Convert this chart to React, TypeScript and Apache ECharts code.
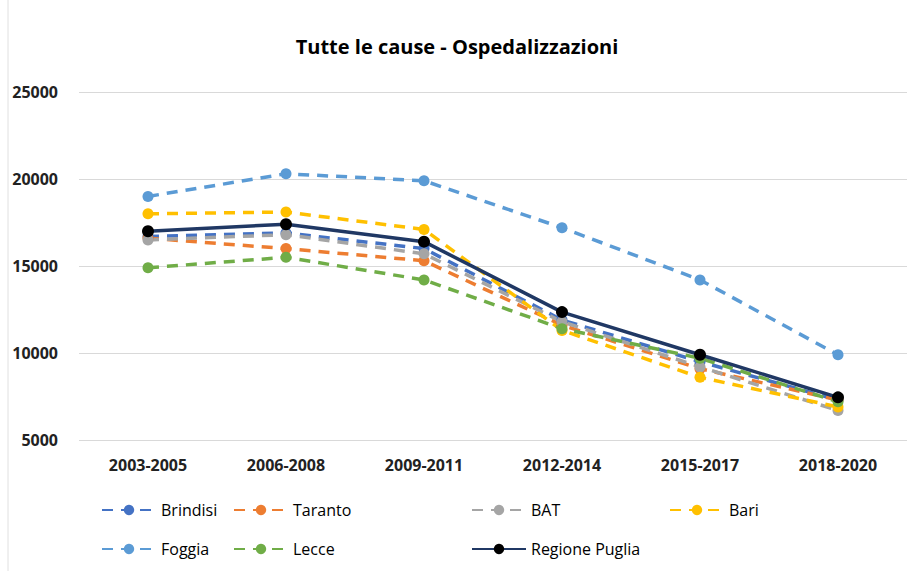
import React, { useEffect, useRef } from "react";
import * as echarts from "echarts";

const categories = ["2003-2005", "2006-2008", "2009-2011", "2012-2014", "2015-2017", "2018-2020"];
const brindisi = [16700, 16900, 16000, 11900, 9500, 7300];
const taranto = [16600, 16000, 15300, 11600, 9100, 7300];
const bat = [16500, 16800, 15700, 11800, 9200, 6700];
const bari = [18000, 18100, 17100, 11300, 8600, 6900];
const foggia = [19000, 20300, 19900, 17200, 14200, 9900];
const lecce = [14900, 15500, 14200, 11400, 9700, 7200];
const regione = [17000, 17400, 16400, 12350, 9900, 7450];
const yTicks = [5000, 25000, 5000]; // min, max, interval

const FONT = "'Open Sans', 'Liberation Sans', sans-serif";

export default function App() {
  const ref = useRef<HTMLDivElement>(null);
  useEffect(() => {
    if (!ref.current) return;
    const chart = echarts.init(ref.current, undefined, { renderer: "svg" });
    const dashed = (name: string, data: number[], color: string) => ({
      name,
      type: "line",
      data,
      symbol: "circle",
      symbolSize: 11,
      itemStyle: { color },
      lineStyle: { color, width: 3.5, type: [11, 8] },
      z: 2,
    });
    const series = [
      dashed("Brindisi", brindisi, "#4472C4"),
      dashed("Taranto", taranto, "#ED7D31"),
      dashed("BAT", bat, "#A5A5A5"),
      dashed("Bari", bari, "#FFC000"),
      dashed("Foggia", foggia, "#5B9BD5"),
      dashed("Lecce", lecce, "#70AD47"),
      {
        name: "Regione Puglia",
        type: "line",
        data: regione,
        symbol: "circle",
        symbolSize: 12,
        itemStyle: { color: "#000000" },
        lineStyle: { color: "#203864", width: 3.5, type: "solid" },
        z: 3,
      },
    ];
    const legendPos: [string, number, number][] = [
      ["Brindisi", 96, 497],
      ["Taranto", 228, 497],
      ["BAT", 466, 497],
      ["Bari", 664, 497],
      ["Foggia", 96, 536],
      ["Lecce", 228, 536],
      ["Regione Puglia", 466, 536],
    ];
    chart.setOption({
      animation: false,
      backgroundColor: "#ffffff",
      title: {
        text: "Tutte le cause - Ospedalizzazioni",
        left: "center",
        top: 31,
        textStyle: { fontFamily: FONT, fontSize: 20, fontWeight: "bold", color: "#000" },
      },
      legend: legendPos.map(([name, left, top]) => ({
        data: [name],
        left,
        top,
        itemWidth: 54,
        itemHeight: 13,
        itemGap: 10,
        textStyle: { fontFamily: FONT, fontSize: 16, color: "#000", fontWeight: 500 },
      })),
      grid: { left: 79, right: 7, top: 92, bottom: 131 },
      xAxis: {
        type: "category",
        data: categories,
        boundaryGap: true,
        axisLine: { show: false },
        axisTick: { show: false },
        axisLabel: { fontFamily: FONT, fontSize: 16, fontWeight: "bold", color: "#222", margin: 17 },
      },
      yAxis: {
        type: "value",
        min: yTicks[0],
        max: yTicks[1],
        interval: yTicks[2],
        axisLine: { show: false },
        axisTick: { show: false },
        splitLine: { lineStyle: { color: "#D9D9D9", width: 1 } },
        axisLabel: {
          fontFamily: FONT,
          fontSize: 16,
          fontWeight: "bold",
          color: "#222",
          margin: 21,
          formatter: (v: number) => String(v),
        },
      },
      graphic: [
        { type: "line", shape: { x1: 8, y1: 0, x2: 8, y2: 571 }, style: { stroke: "#E0E0E0", lineWidth: 1 } },
      ],
      series,
    });
    return () => chart.dispose();
  }, []);
  return (
    <div
      ref={ref}
      style={{ position: "fixed", left: 0, top: 0, width: 914, height: 571 }}
    />
  );
}
